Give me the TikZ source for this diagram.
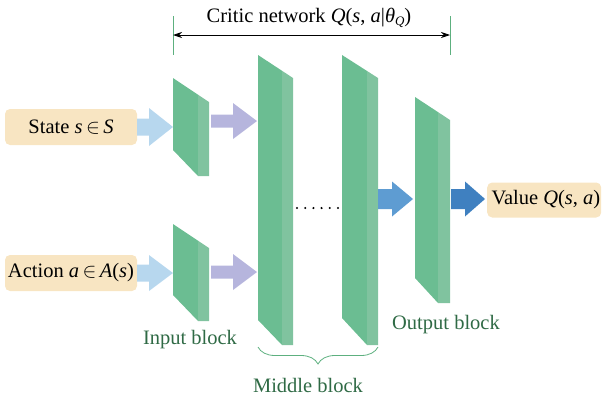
\documentclass[tikz,border=0pt]{standalone}
\usepackage{fontspec}
\setmainfont{Liberation Serif}
\usetikzlibrary{arrows.meta,decorations.pathreplacing,calc}
\definecolor{layerfront}{HTML}{6BBD92}
\definecolor{layerside}{HTML}{80C39F}
\definecolor{inbox}{HTML}{F8E5C2}
\definecolor{inarrow}{HTML}{B7D7EE}
\definecolor{midarrow}{HTML}{B6B5DD}
\definecolor{outarrowA}{HTML}{5E9CD2}
\definecolor{outarrowB}{HTML}{3F80C0}
\definecolor{labelgreen}{HTML}{2F6A45}
\definecolor{tickgreen}{HTML}{5DB07F}
\tikzset{
  txt/.style={font=\fontsize{20.5}{24}\selectfont, inner sep=0pt},
  inputbox/.style={txt, fill=inbox, rounded corners=5pt},
  blocklabel/.style={txt, text=labelgreen},
}
% layer slab: left x, split x, right x, top-left y, top-right y, bottom-left y, bottom y
\newcommand{\layerslab}[8]{%
  \pgfmathsetmacro{\ym}{#4+(#5-#4)*(#2-#1)/(#3-#1)}%
  \fill[layerfront] (#1,#4) -- (#2,\ym) -- (#2,#7) -- (#1,#6) -- cycle;
  \fill[layerside] (#2,\ym) -- (#3,#5) -- (#3,#7) -- (#2,#7) -- cycle;
  \coordinate (#8) at (#1,{(#4+#6)/2});
  \coordinate (#8-r) at (#3,{(#5+#7)/2});
}
% block arrow: start x, head x, tip x, centre y, shaft half height, head half height, colour
\newcommand{\blockarrow}[7]{%
  \fill[#7] (#1,#4-#5) -- (#2,#4-#5) -- (#2,#4-#6) -- (#3,#4) -- (#2,#4+#6) -- (#2,#4+#5) -- (#1,#4+#5) -- cycle;
}
\begin{document}
\begin{tikzpicture}[x=1pt,y=-1pt]
\useasboundingbox (0,0) rectangle (602,402);

% input boxes
\node[inputbox, minimum width=132pt, minimum height=36pt] (state) at (71,127) {State \textit{s}\,$\in$\,\textit{S}};
\node[inputbox, minimum width=132pt, minimum height=36pt] (action) at (71,273) {Action \textit{a}\,$\in$\,\textit{A}(\textit{s})};
\node[inputbox, minimum width=114pt, minimum height=35pt, anchor=west] (value) at (487,200) {\,Value \textit{Q}(\textit{s}, \textit{a})};

% slabs
\layerslab{173}{198}{209}{78}{102}{150}{176}{inS}
\layerslab{173}{198}{209}{224}{248}{295}{321}{inA}
\layerslab{258}{282}{293}{55}{78}{320}{345}{midA}
\layerslab{342}{367}{378}{55}{78}{318}{345}{midB}
\layerslab{415}{438}{450}{97}{120}{278}{303}{outL}

% block arrows
\blockarrow{137}{149}{173}{127}{8.5}{19}{inarrow}
\blockarrow{137}{149}{173}{273}{8.5}{18}{inarrow}
\blockarrow{211}{233}{257}{121}{6.5}{18}{midarrow}
\blockarrow{211}{233}{257}{272}{6.5}{18}{midarrow}
\blockarrow{378}{392}{413}{199}{10}{17.5}{outarrowA}
\blockarrow{451}{465}{485}{199}{10}{17.5}{outarrowB}

% dots between middle layers
\foreach \i in {0,...,5}
  \fill (297+\i*8.2,208) circle (1.15pt);

% critic network span
\draw[tickgreen, line width=0.9pt] (173,16) -- (173,55);
\draw[tickgreen, line width=0.9pt] (450,16) -- (450,55);
\coordinate (spanL) at (173,35);
\coordinate (spanR) at (450,35);
\draw[{Stealth[length=9pt,width=6pt]}-{Stealth[length=9pt,width=6pt]}, line width=0.8pt] (spanL) -- (spanR);
\node[txt] (critic) at (309,18) {Critic network \textit{Q}(\textit{s}, \textit{a}|\textit{θ}\raisebox{-0.35ex}{\fontsize{13}{14}\selectfont\textit{Q}})};

% block labels
\node[blocklabel] (inlabel) at (190,340) {Input block};
\node[blocklabel] (outlabel) at (446,325) {Output block};
\draw[tickgreen, line width=0.8pt, decoration={brace, amplitude=17pt}, decorate] (378,347) -- (258,347);
\node[blocklabel] (midlabel) at (308,385) {Middle block};
\end{tikzpicture}
\end{document}
